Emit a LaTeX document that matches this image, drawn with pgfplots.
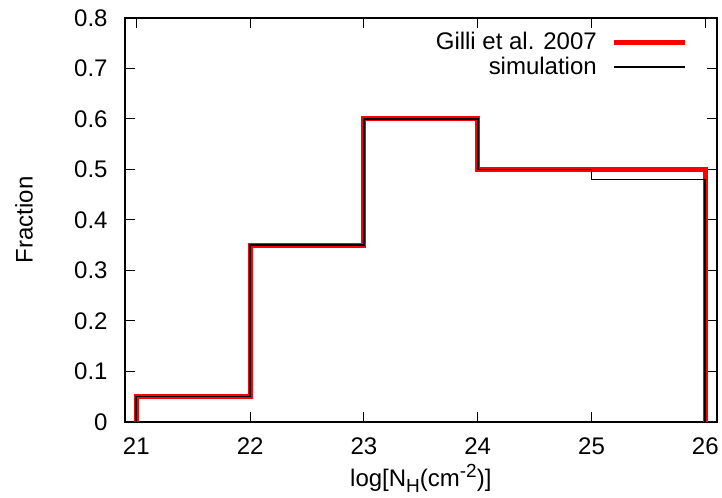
\documentclass[border=0pt]{standalone}
\usepackage{fontspec}
\setmainfont{Liberation Sans}
\usepackage{pgfplots}
\pgfplotsset{compat=1.18}
\begin{document}
\fontsize{12}{14}\selectfont
\begin{tikzpicture}
\begin{axis}[
  scale only axis, width=296pt, height=202pt,
  xmin=20.9, xmax=26.1, ymin=0, ymax=0.8,
  xtick={21,22,23,24,25,26},
  ytick={0,0.1,0.2,0.3,0.4,0.5,0.6,0.7,0.8},
  yticklabels={0,0.1,0.2,0.3,0.4,0.5,0.6,0.7,0.8},
  tick align=inside, major tick length=5pt,
  axis line style={line width=1pt},
  every tick/.style={black, line width=0.5pt},
  tick label style={font=\fontsize{12}{14}\selectfont},
  /pgf/number format/assume math mode=true,
  xticklabel style={anchor=base, yshift=-16.5pt},
  yticklabel style={anchor=east, inner sep=0pt, xshift=-8.5pt},
  xlabel={log[N\raisebox{-0.45ex}{\fontsize{9.5}{10}\selectfont H}(cm\raisebox{0.75ex}{\fontsize{9.5}{10}\selectfont -2})]},
  xlabel style={at={(axis description cs:0.5,0)}, anchor=base, yshift=-32.5pt, font=\fontsize{12}{14}\selectfont},
  ylabel={Fraction},
  ylabel style={at={(axis description cs:-0.1706,0.5)}, anchor=center, font=\fontsize{12}{14}\selectfont},
  legend plot pos=right,
  legend cell align=right,
  legend image code/.code={\draw[#1] (0pt,0pt) -- (35.3pt,0pt);},
  legend style={draw=none, fill=none, inner sep=0pt, outer sep=0pt,
    at={(rel axis cs:1,1)}, anchor=north east, xshift=-14.7pt, yshift=-7.1pt,
    column sep=7.5pt, row sep=1.8pt,
    nodes={inner sep=0pt, font=\fontsize{12}{14}\selectfont}},
]
\addplot[red, line width=2.5pt, line join=miter] coordinates {
  (21,0) (21,0.05) (22,0.05) (22,0.35) (23,0.35) (23,0.6) (24,0.6)
  (24,0.5) (25,0.5) (26,0.5) (26,0)};
\addlegendentry{Gilli et al. 2007}
\addplot[black, line width=0.9pt, line join=miter] coordinates {
  (21,0) (21,0.05) (22,0.05) (22,0.35) (23,0.35) (23,0.6) (24,0.6)
  (24,0.5) (25,0.5) (25,0.48) (26,0.48) (26,0)};
\addlegendentry{simulation}
\end{axis}
\pgfresetboundingbox
\path[use as bounding box] ([xshift=-62.5pt,yshift=-38pt]current axis.south west) rectangle ([xshift=2.65pt,yshift=9pt]current axis.north east);
\end{tikzpicture}
\end{document}
